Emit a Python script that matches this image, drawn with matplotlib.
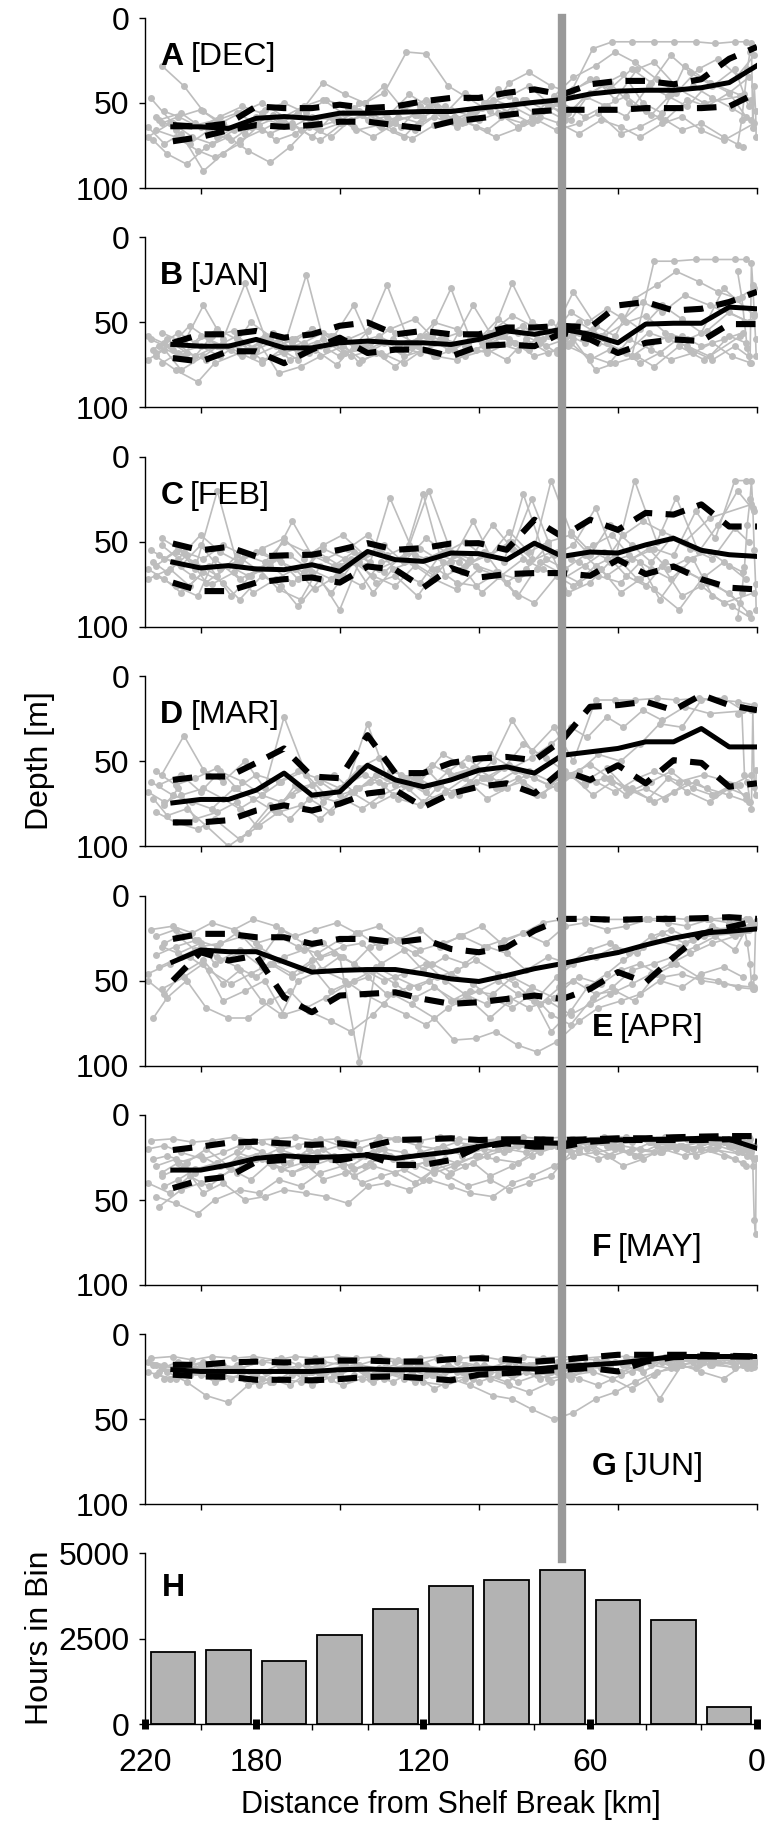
import matplotlib
matplotlib.use('Agg')
import matplotlib.pyplot as plt
import matplotlib.transforms as mtransforms
from matplotlib.lines import Line2D

plt.rcParams['font.family'] = ['Liberation Sans', 'DejaVu Sans']

letters = ['A', 'B', 'C', 'D', 'E', 'F', 'G']
months = ['[DEC]', '[JAN]', '[FEB]', '[MAR]', '[APR]', '[MAY]', '[JUN]']

# 10 km bins for the mean / spread lines
bin_km = [210, 200, 190, 180, 170, 160, 150, 140, 130, 120, 110,
          100, 90, 80, 70, 60, 50, 40, 30, 20, 10, 0]

dec_mean = [64, 64, 65, 59, 58, 59, 56, 56, 55.5, 55, 55, 53, 51.5, 49.6, 48, 44.7, 43, 42.5, 42.5, 41, 38, 28]
dec_up = [63, 64, 62, 52, 53, 53, 51, 53, 52, 49, 47, 47, 44, 42, 45, 39, 37, 37, 39, 36, 24, 17]
dec_lo = [72.5, 70, 66, 63, 64, 63, 61, 61, 63, 65, 61, 59, 57, 55, 54, 54, 54, 53, 53, 53, 52, 44]

jan_mean = [63, 64, 64, 60, 65, 65, 62, 61, 62, 62, 63, 60, 55, 57, 54, 57, 62, 51, 50.5, 50.5, 41, 42]
jan_up = [62, 57, 57, 55, 59, 57, 52, 50, 57, 55, 57, 57, 53, 53, 52, 53, 40, 38, 43, 42, 38, 32]
jan_lo = [71, 73, 67, 67, 74, 66, 59, 68, 66, 66, 70, 64, 63, 64, 56, 60, 68, 62, 60, 61, 51, 51]

feb_mean = [62, 65.4, 64, 66, 66.4, 63.5, 67.4, 55.7, 60.5, 61.5, 56.6, 57, 60.5, 50.8, 58.6, 56, 56.6, 51.8, 47.9, 55, 57.6, 58.6]
feb_up = [51, 55, 53, 58.6, 58, 57.6, 54.7, 50.8, 54.7, 53.7, 51, 50.8, 54.7, 37, 47, 37, 43, 33, 34, 28, 41, 41]
feb_lo = [74, 79, 79, 74, 72, 71, 74, 64.5, 66.4, 77, 65.4, 71, 69, 68.4, 68.4, 70, 60.5, 69, 64.5, 72, 77, 78]

mar_mean = [74.5, 72.5, 72.5, 67, 57, 70, 68, 52.4, 61, 65, 61, 55.3, 53.3, 57, 46.5, 44.5, 42.5, 38.6, 38.6, 30.8, 41.6, 41.6]
mar_up = [61, 59, 59, 51, 42.5, 59, 60, 34.7, 57, 57, 51, 48.4, 47.5, 49.4, 37.6, 18, 17, 15, 20, 11, 17, 20]
mar_lo = [86, 86, 84.7, 79, 76, 79, 75, 69, 67, 77, 69, 65, 63, 69, 55.3, 61, 52.4, 63, 49.4, 51, 65, 63]

apr_mean = [39, 32, 33, 33, 39, 45, 44, 43.5, 43.5, 46, 49, 50.5, 47, 43, 40, 36.5, 33.5, 29, 25, 22, 21, 19.6]
apr_up = [25.5, 22.5, 22.5, 24.5, 24.5, 28.4, 25.5, 25.5, 27.5, 25.5, 31.4, 33.3, 30.4, 20.6, 13.7, 13.7, 14.3, 13.7, 13.7, 13.3, 12.7, 13.7]
apr_lo = [50, 33.3, 38.2, 35.3, 59.8, 68.6, 58.8, 57.8, 56.9, 60.8, 63.7, 62.7, 60.8, 58.8, 60.8, 54.9, 45, 51, 36.3, 22.5, 18.6, 14.7]

may_mean = [32.4, 32.4, 29.4, 25.5, 24, 25, 24.5, 23.5, 25.5, 23.5, 21.6, 18.6, 15.7, 16.3, 16.7, 14.7, 14.7, 14.3, 14.3, 13.7, 14.3, 19.6]
may_up = [20.6, 18.6, 16.3, 15.7, 16.7, 17.6, 16.7, 18.6, 14.7, 14.3, 13.7, 14.7, 14.3, 14.3, 14.7, 14.3, 13.7, 13.7, 13.1, 12.7, 12.4, 12.4]
may_lo = [43, 38.2, 36.3, 27.5, 26.5, 26.5, 26.5, 23.5, 29.4, 29.4, 26.5, 18.6, 16.7, 18.6, 18.6, 15.7, 14.7, 14.7, 14.7, 14.7, 14.3, 15.7]

jun_mean = [20.8, 21.8, 21.8, 21.8, 21.8, 21.8, 20.8, 20.4, 20.8, 20.8, 21.2, 20.4, 19.8, 20.4, 18.9, 17.9, 16.9, 15, 13, 13, 13, 13]
jun_up = [17.9, 17.9, 16.5, 16, 16.5, 16, 15.4, 15.4, 16, 16, 14.6, 14, 14.6, 16, 15, 13.4, 12, 12, 12, 12, 12.6, 13]
jun_lo = [23.7, 24.7, 25, 26.7, 26.7, 27, 26.3, 25, 24.7, 25.7, 27, 23.7, 22.8, 21.8, 20.8, 19.8, 21.8, 16, 13.4, 13, 13, 13]

# distance of the individual track fixes (km from shelf break)
track_km = [
    [218, 210, 203, 196, 188, 181, 173, 166, 159, 151, 144, 136, 129, 121, 114, 107, 99, 92, 84, 77, 70, 62, 55, 47, 40, 33, 25, 18, 10, 3],
    [216, 209, 201, 195, 186, 179, 172, 164, 157, 149, 142, 135, 127, 120, 112, 105, 97, 90, 83, 75, 68, 60, 53, 46, 38, 31, 23, 16, 9, 2],
    [214, 206, 199, 192, 184, 177, 170, 162, 155, 147, 140, 133, 125, 118, 110, 103, 95, 88, 81, 73, 66, 58, 51, 44, 36, 29, 21, 14, 7, 1],
    [217, 212, 205, 198, 190, 183, 175, 168, 161, 153, 146, 138, 131, 124, 116, 109, 101, 94, 86, 79, 72, 64, 57, 49, 42, 35, 27, 20, 12, 5],
    [215, 207, 200, 193, 185, 178, 171, 163, 156, 148, 141, 134, 126, 119, 111, 104, 96, 89, 82, 74, 67, 59, 52, 45, 37, 30, 22, 15, 8, 4],
    [219, 213, 207, 199, 192, 186, 178, 171, 165, 157, 150, 143, 137, 130, 122, 115, 108, 101, 93, 87, 80, 72, 66, 58, 51, 43, 37, 28, 19, 6],
    [213, 208, 202, 194, 187, 180, 174, 167, 160, 152, 145, 139, 132, 123, 117, 110, 102, 96, 88, 81, 74, 67, 61, 54, 48, 41, 34, 26, 17, 2],
    [216, 209, 202, 194, 187, 180, 172, 165, 158, 150, 143, 136, 128, 121, 113, 106, 98, 91, 84, 76, 69, 62, 54, 47, 39, 32, 25, 17, 10, 4],
    [219, 211, 204, 197, 189, 182, 175, 167, 160, 153, 145, 138, 130, 123, 116, 108, 100, 93, 86, 78, 71, 64, 56, 49, 42, 34, 27, 20, 12, 1],
    [214, 208, 200, 193, 186, 178, 170, 163, 156, 149, 141, 134, 127, 119, 112, 105, 97, 89, 82, 75, 67, 60, 53, 45, 38, 31, 24, 16, 8, 3],
]
edge_km = [7, 5.5, 4.5, 3.5, 2.5, 2, 1.5, 1, 0.5, 0.3]

dec_tracks = [
    [47, 62, 70, 74, 66, 60, 72, 68, 60, 58, 66, 63, 58, 62, 56, 60, 53, 58, 62, 55, 50, 58, 52, 46, 55, 60, 48, 52, 44, 35],
    [66, 70, 78, 82, 74, 63, 58, 66, 72, 62, 57, 64, 70, 58, 52, 61, 66, 57, 48, 52, 56, 44, 38, 50, 57, 45, 40, 47, 53, 60],
    [28, 40, 55, 62, 68, 54, 50, 56, 48, 53, 60, 58, 45, 52, 60, 56, 48, 52, 58, 46, 35, 28, 20, 26, 36, 44, 30, 24, 34, 22],
    [72, 80, 86, 76, 70, 78, 85, 76, 64, 70, 60, 56, 66, 71, 63, 58, 64, 70, 65, 60, 66, 62, 56, 68, 64, 58, 66, 62, 70, 76],
    [60, 56, 64, 58, 52, 56, 62, 53, 38, 45, 50, 44, 20, 21, 40, 47, 55, 38, 32, 40, 44, 18, 14, 14, 14, 14, 14, 15, 14, 14],
    [64, 74, 68, 90, 80, 72, 66, 60, 56, 66, 62, 50, 55, 60, 57, 52, 62, 55, 42, 48, 56, 50, 42, 36, 48, 30, 26, 42, 50, 46],
    [55, 58, 63, 60, 56, 62, 57, 64, 58, 60, 53, 56, 62, 57, 50, 54, 58, 50, 56, 62, 52, 60, 46, 38, 33, 50, 56, 28, 38, 48],
    [58, 66, 62, 70, 64, 58, 62, 56, 64, 60, 55, 60, 64, 52, 58, 62, 50, 56, 48, 54, 60, 46, 52, 58, 40, 46, 52, 38, 44, 58],
    [70, 62, 74, 66, 72, 64, 68, 62, 70, 58, 64, 70, 62, 66, 58, 64, 60, 56, 64, 58, 62, 68, 60, 64, 70, 62, 58, 66, 72, 62],
    [62, 58, 54, 62, 56, 50, 58, 52, 48, 56, 50, 40, 54, 48, 56, 44, 50, 46, 40, 50, 44, 36, 42, 30, 38, 22, 32, 40, 30, 52],
]
dec_edge = [75, 60, 45, 30, 20, 15, 65, 40, 55, 70]

jan_tracks = [
    [60, 66, 72, 58, 55, 70, 64, 60, 66, 75, 62, 58, 64, 68, 60, 56, 62, 58, 52, 60, 56, 62, 58, 50, 46, 56, 60, 55, 44, 50],
    [70, 78, 85, 74, 68, 62, 80, 76, 70, 64, 72, 68, 74, 66, 62, 70, 66, 72, 60, 68, 64, 70, 74, 60, 66, 72, 68, 62, 70, 74],
    [56, 62, 40, 60, 27, 58, 64, 22, 66, 60, 55, 28, 62, 58, 30, 60, 56, 27, 50, 55, 32, 52, 58, 36, 28, 20, 26, 32, 36, 30],
    [66, 60, 68, 72, 64, 66, 60, 72, 68, 62, 70, 66, 60, 64, 70, 66, 58, 62, 66, 60, 68, 56, 62, 66, 74, 68, 58, 64, 60, 56],
    [64, 70, 58, 64, 70, 60, 66, 62, 56, 68, 64, 70, 62, 58, 66, 62, 56, 60, 64, 50, 58, 54, 66, 70, 14, 14, 13, 13, 13, 13],
    [72, 66, 78, 70, 62, 68, 74, 66, 72, 64, 60, 74, 68, 76, 64, 70, 72, 66, 58, 62, 70, 66, 60, 78, 74, 70, 76, 64, 72, 58],
    [62, 56, 62, 54, 60, 66, 56, 60, 54, 58, 40, 62, 54, 48, 58, 64, 40, 56, 46, 52, 58, 44, 50, 42, 48, 38, 44, 34, 40, 50],
    [68, 62, 70, 64, 58, 66, 60, 68, 62, 70, 64, 60, 66, 58, 62, 68, 64, 58, 52, 64, 60, 56, 62, 68, 56, 60, 64, 70, 58, 62],
    [58, 64, 52, 60, 66, 50, 58, 62, 54, 58, 64, 52, 56, 62, 50, 54, 60, 48, 56, 62, 54, 50, 58, 46, 54, 40, 48, 56, 30, 46],
    [74, 68, 64, 70, 62, 72, 68, 64, 60, 68, 66, 62, 70, 66, 60, 64, 68, 62, 66, 58, 62, 72, 66, 70, 62, 58, 66, 72, 64, 70],
]
jan_edge = [20, 35, 50, 65, 74, 15, 28, 45, 60, 70]

feb_tracks = [
    [55, 62, 70, 75, 68, 80, 72, 66, 78, 70, 62, 56, 68, 74, 58, 62, 80, 70, 60, 66, 72, 64, 56, 70, 76, 62, 68, 74, 80, 92],
    [70, 76, 82, 60, 72, 66, 78, 84, 64, 70, 76, 62, 60, 22, 70, 64, 58, 74, 66, 52, 80, 74, 62, 58, 66, 72, 60, 82, 88, 95],
    [48, 56, 60, 52, 58, 62, 50, 56, 60, 54, 46, 58, 52, 20, 56, 60, 40, 54, 25, 58, 52, 30, 60, 14, 50, 24, 56, 40, 20, 32],
    [62, 68, 58, 74, 64, 70, 62, 58, 66, 72, 60, 80, 66, 62, 70, 58, 64, 68, 72, 66, 56, 62, 70, 74, 62, 84, 66, 72, 62, 68],
    [58, 64, 52, 66, 60, 56, 62, 68, 54, 60, 64, 68, 56, 60, 54, 62, 58, 50, 62, 56, 60, 52, 46, 60, 54, 58, 32, 48, 14, 14],
    [66, 72, 80, 68, 74, 84, 70, 76, 88, 72, 90, 62, 74, 70, 82, 66, 74, 76, 68, 80, 86, 70, 76, 64, 58, 72, 78, 90, 70, 86],
    [60, 54, 66, 20, 62, 56, 60, 38, 58, 64, 56, 62, 24, 58, 66, 62, 38, 58, 50, 60, 14, 44, 54, 60, 46, 38, 44, 50, 36, 28],
    [64, 56, 62, 70, 58, 66, 60, 72, 56, 64, 58, 66, 60, 54, 62, 68, 56, 62, 22, 60, 66, 58, 70, 62, 54, 66, 60, 56, 64, 72],
    [72, 66, 76, 64, 82, 70, 64, 74, 68, 80, 62, 70, 76, 64, 72, 78, 66, 70, 82, 62, 68, 74, 66, 80, 72, 64, 82, 76, 86, 80],
    [52, 60, 46, 56, 62, 54, 48, 60, 52, 46, 58, 52, 62, 48, 56, 50, 60, 44, 56, 50, 46, 58, 40, 52, 62, 48, 54, 60, 42, 50],
]
feb_edge = [95, 80, 65, 40, 25, 14, 30, 55, 75, 90]

mar_tracks = [
    [62, 70, 74, 78, 66, 72, 80, 64, 70, 74, 66, 62, 72, 76, 64, 70, 60, 66, 62, 70, 56, 64, 60, 70, 66, 72, 62, 66, 70, 74],
    [80, 86, 90, 84, 96, 88, 80, 76, 84, 72, 78, 70, 64, 74, 68, 60, 72, 66, 58, 64, 58, 52, 60, 68, 62, 56, 66, 70, 64, 58],
    [58, 35, 55, 62, 50, 66, 24, 58, 70, 62, 28, 60, 66, 56, 70, 62, 50, 26, 44, 30, 50, 14, 14, 14, 13, 14, 13, 14, 15, 17],
    [72, 82, 78, 88, 100, 92, 76, 84, 72, 80, 68, 76, 70, 64, 72, 68, 62, 66, 60, 70, 64, 56, 46, 50, 40, 28, 30, 14, 13, 20],
    [64, 58, 68, 56, 62, 70, 62, 56, 74, 64, 58, 64, 60, 68, 56, 48, 60, 52, 56, 62, 58, 70, 62, 66, 74, 68, 62, 70, 64, 72],
    [68, 74, 70, 66, 72, 78, 70, 74, 66, 62, 70, 66, 58, 64, 60, 66, 58, 54, 62, 56, 60, 66, 58, 62, 68, 60, 56, 62, 58, 64],
    [76, 66, 84, 80, 74, 88, 78, 70, 64, 58, 68, 62, 56, 60, 52, 58, 54, 46, 54, 48, 40, 30, 36, 24, 30, 20, 26, 18, 22, 20],
    [56, 64, 60, 54, 66, 58, 62, 56, 60, 66, 54, 48, 58, 62, 46, 52, 60, 54, 40, 48, 56, 62, 54, 66, 72, 60, 68, 74, 66, 70],
]
mar_edge = [22, 18, 58, 62, 74, 78, 20, 65, 70, 55]

apr_tracks = [
    [20, 18, 22, 16, 20, 14, 18, 24, 20, 16, 22, 18, 26, 20, 30, 24, 18, 28, 22, 16, 14, 14, 14, 14, 14, 13, 14, 14, 13, 14],
    [35, 30, 26, 40, 34, 30, 38, 44, 36, 30, 28, 40, 32, 44, 36, 40, 30, 34, 44, 36, 40, 32, 28, 34, 24, 20, 26, 18, 22, 16],
    [55, 48, 40, 62, 56, 50, 70, 66, 60, 52, 48, 58, 54, 50, 62, 56, 58, 48, 54, 60, 50, 58, 56, 62, 46, 40, 48, 50, 54, 55],
    [72, 60, 50, 66, 72, 72, 62, 56, 68, 74, 80, 70, 58, 64, 72, 85, 84, 80, 88, 92, 86, 74, 66, 62, 58, 50, 54, 46, 42, 48],
    [42, 36, 30, 28, 24, 36, 20, 28, 44, 50, 58, 64, 70, 76, 66, 60, 72, 62, 56, 70, 76, 60, 54, 44, 40, 36, 30, 24, 32, 20],
    [50, 58, 46, 38, 52, 44, 62, 70, 50, 44, 36, 98, 42, 48, 54, 48, 44, 38, 46, 52, 62, 48, 40, 36, 30, 34, 26, 30, 24, 22],
    [28, 24, 32, 36, 42, 48, 40, 46, 38, 34, 40, 30, 26, 34, 40, 46, 52, 60, 66, 58, 80, 68, 54, 46, 38, 30, 22, 28, 20, 18],
    [24, 20, 26, 30, 22, 28, 24, 30, 34, 26, 22, 30, 26, 32, 28, 24, 30, 26, 22, 28, 18, 16, 20, 18, 14, 16, 18, 14, 16, 14],
    [46, 40, 36, 44, 52, 46, 40, 48, 42, 56, 50, 44, 52, 60, 54, 62, 56, 50, 58, 64, 54, 48, 52, 44, 40, 48, 46, 50, 52, 54],
    [30, 34, 28, 38, 32, 42, 36, 32, 28, 36, 44, 50, 46, 40, 50, 58, 64, 60, 66, 62, 70, 64, 58, 52, 46, 40, 34, 28, 24, 20],
]
apr_edge = [14, 16, 20, 28, 40, 52, 55, 48, 18, 15]

may_tracks = [
    [15, 14, 16, 15, 13, 15, 14, 13, 15, 14, 16, 13, 14, 15, 13, 14, 15, 14, 13, 14, 13, 14, 13, 13, 14, 13, 14, 13, 14, 13],
    [48, 52, 58, 50, 44, 46, 38, 42, 34, 30, 40, 36, 32, 38, 26, 30, 24, 20, 22, 18, 20, 16, 18, 22, 16, 18, 20, 16, 18, 22],
    [36, 30, 46, 40, 50, 48, 44, 46, 48, 52, 42, 40, 44, 38, 42, 46, 48, 40, 36, 30, 24, 22, 20, 24, 18, 20, 16, 18, 22, 26],
    [26, 24, 28, 20, 30, 18, 24, 28, 20, 26, 30, 22, 26, 28, 34, 30, 24, 26, 28, 20, 18, 22, 26, 20, 24, 22, 18, 20, 24, 28],
    [54, 44, 40, 36, 30, 26, 32, 28, 38, 34, 30, 24, 30, 28, 36, 42, 38, 44, 40, 36, 22, 18, 24, 20, 22, 18, 24, 20, 26, 30],
    [20, 18, 22, 26, 22, 18, 16, 20, 18, 14, 18, 20, 16, 14, 18, 20, 16, 18, 14, 16, 16, 18, 14, 16, 18, 14, 16, 18, 16, 14],
    [42, 38, 32, 28, 34, 24, 30, 34, 28, 24, 32, 28, 24, 30, 26, 34, 28, 36, 30, 24, 18, 16, 20, 24, 30, 26, 20, 24, 20, 24],
    [30, 26, 34, 28, 22, 26, 20, 24, 22, 18, 24, 20, 26, 22, 18, 24, 20, 22, 16, 18, 20, 16, 18, 14, 16, 18, 20, 16, 18, 20],
    [40, 46, 36, 42, 32, 38, 28, 34, 30, 26, 36, 30, 34, 40, 32, 28, 24, 20, 18, 22, 18, 20, 16, 18, 20, 22, 18, 20, 16, 18],
    [34, 28, 24, 30, 26, 22, 28, 24, 20, 28, 24, 20, 22, 26, 22, 18, 16, 20, 18, 16, 14, 16, 18, 16, 14, 16, 14, 16, 18, 16],
]
may_edge = [18, 22, 16, 24, 14, 20, 30, 62, 70, 25]

jun_tracks = [
    [14, 13, 15, 13, 14, 13, 15, 13, 14, 13, 14, 13, 15, 14, 13, 14, 13, 15, 13, 14, 13, 14, 13, 13, 14, 13, 13, 14, 13, 13],
    [24, 26, 22, 28, 24, 30, 26, 28, 24, 30, 26, 22, 26, 28, 30, 26, 24, 28, 22, 26, 24, 20, 18, 16, 18, 20, 16, 18, 16, 17],
    [20, 22, 18, 24, 26, 22, 20, 18, 22, 26, 24, 20, 18, 22, 26, 30, 36, 38, 44, 50, 46, 38, 34, 28, 22, 20, 18, 16, 14, 15],
    [18, 22, 28, 36, 40, 30, 26, 30, 22, 26, 20, 24, 28, 22, 32, 26, 24, 20, 28, 24, 22, 26, 30, 24, 20, 38, 18, 22, 26, 18],
    [22, 20, 24, 18, 22, 26, 20, 24, 22, 18, 22, 26, 20, 24, 18, 22, 26, 30, 34, 28, 24, 22, 26, 32, 24, 18, 20, 16, 18, 16],
    [16, 18, 20, 16, 18, 20, 16, 14, 18, 20, 16, 18, 15, 16, 18, 14, 16, 18, 20, 16, 18, 16, 14, 15, 16, 14, 15, 16, 15, 14],
    [26, 24, 20, 22, 18, 24, 28, 22, 30, 24, 20, 26, 22, 28, 24, 20, 26, 22, 24, 18, 22, 26, 20, 16, 18, 22, 16, 14, 18, 20],
    [18, 20, 22, 18, 20, 24, 18, 22, 20, 24, 18, 20, 22, 18, 20, 22, 18, 20, 18, 22, 20, 18, 16, 18, 14, 16, 14, 15, 14, 15],
    [22, 26, 24, 20, 26, 22, 28, 24, 22, 26, 24, 28, 22, 26, 24, 22, 28, 24, 20, 26, 22, 18, 20, 22, 18, 16, 18, 16, 14, 16],
    [20, 16, 18, 22, 20, 16, 18, 22, 16, 18, 22, 20, 16, 18, 22, 18, 20, 16, 18, 20, 16, 18, 20, 22, 16, 18, 14, 16, 20, 18],
]
jun_edge = [14, 16, 18, 20, 15, 13, 17, 19, 14, 16]

# panel H
hour_km = [210, 190, 170, 150, 130, 110, 90, 70, 50, 30, 10]
hours = [2105, 2174, 1833, 2602, 3363, 4025, 4201, 4513, 3626, 3051, 497]

shelf_line_km = 70

means = [dec_mean, jan_mean, feb_mean, mar_mean, apr_mean, may_mean, jun_mean]
ups = [dec_up, jan_up, feb_up, mar_up, apr_up, may_up, jun_up]
los = [dec_lo, jan_lo, feb_lo, mar_lo, apr_lo, may_lo, jun_lo]
tracks = [dec_tracks, jan_tracks, feb_tracks, mar_tracks, apr_tracks, may_tracks, jun_tracks]
edges = [dec_edge, jan_edge, feb_edge, mar_edge, apr_edge, may_edge, jun_edge]

W, H = 770, 1826
fig = plt.figure(figsize=(W / 100, H / 100), dpi=100)

GRAY = '#bdbdbd'
FS = 23
left = 145 / W
width = 612 / W


def style_axis(ax):
    for s in ['top', 'right']:
        ax.spines[s].set_visible(False)
    for s in ['left', 'bottom']:
        ax.spines[s].set_linewidth(1.0)
    ax.tick_params(axis='y', direction='out', length=4.3, width=1, pad=7, labelsize=FS)


axes = []
for i in range(7):
    top = 18 + 219.4 * i
    ax = fig.add_axes([left, 1 - (top + 170) / H, width, 170 / H])
    style_axis(ax)
    for xs, ys in zip(track_km, tracks[i]):
        ax.plot(xs, ys, '-o', color=GRAY, lw=1.2, ms=5, mec='none')
    ax.plot(edge_km, edges[i], '-o', color=GRAY, lw=1.2, ms=5, mec='none')
    ax.plot(bin_km, means[i], color='k', lw=3.6, solid_joinstyle='round')
    ax.plot(bin_km, ups[i], color='k', lw=4.4, dashes=(3.2, 2.2), dash_capstyle='butt')
    ax.plot(bin_km, los[i], color='k', lw=4.4, dashes=(3.2, 2.2), dash_capstyle='butt')
    ax.set_xlim(220, 0)
    ax.set_ylim(100, 0)
    ax.set_yticks([0, 50, 100])
    ax.set_xticks([200, 150, 100, 50, 0])
    ax.tick_params(axis='x', direction='out', length=4.3, width=1, labelbottom=False)
    if i < 4:
        lx, ly = 214.5, 23
    else:
        lx, ly = 59.5, 78
    t = ax.text(lx, ly, letters[i], fontsize=FS, fontweight='bold', ha='left', va='center')
    ax.annotate(months[i], xy=(1, 0.5), xycoords=t, xytext=(5, 0), textcoords='offset points',
                fontsize=FS, ha='left', va='center')
    axes.append(ax)

axh = fig.add_axes([left, 1 - (1553 + 171) / H, width, 171 / H])
style_axis(axh)
axh.bar(hour_km, hours, width=16, color='#b3b3b3', edgecolor='k', linewidth=1.3)
axh.set_xlim(220, 0)
axh.set_ylim(0, 5000)
axh.set_yticks([0, 2500, 5000])
axh.set_xticks([220, 180, 120, 60, 0])
axh.set_xticks([200, 160, 140, 100, 80, 40, 20], minor=True)
axh.tick_params(axis='x', which='major', direction='inout', length=6.5, width=5, pad=14, labelsize=FS)
axh.tick_params(axis='x', which='minor', direction='out', length=4.3, width=1)
axh.text(0.028, 0.795, 'H', transform=axh.transAxes, fontsize=FS, fontweight='bold', ha='left', va='center')

fig.text(40 / W, 1 - 761 / H, 'Depth [m]', rotation=90, fontsize=FS, ha='center', va='center')
fig.text(40 / W, 1 - 1638 / H, 'Hours in Bin', rotation=90, fontsize=FS, ha='center', va='center')
fig.text(451 / W, 1 - 1805 / H, 'Distance from Shelf Break [km]', fontsize=22, ha='center', va='center')

# shelf-break reference line through all panels
trans = mtransforms.blended_transform_factory(axes[0].transData, fig.transFigure)
fig.lines.append(Line2D([shelf_line_km, shelf_line_km], [1 - 18 / H, 1 - 1559 / H],
                        transform=trans, color='#999999', lw=6.0, zorder=5))

fig.savefig('out.png', dpi=100)
